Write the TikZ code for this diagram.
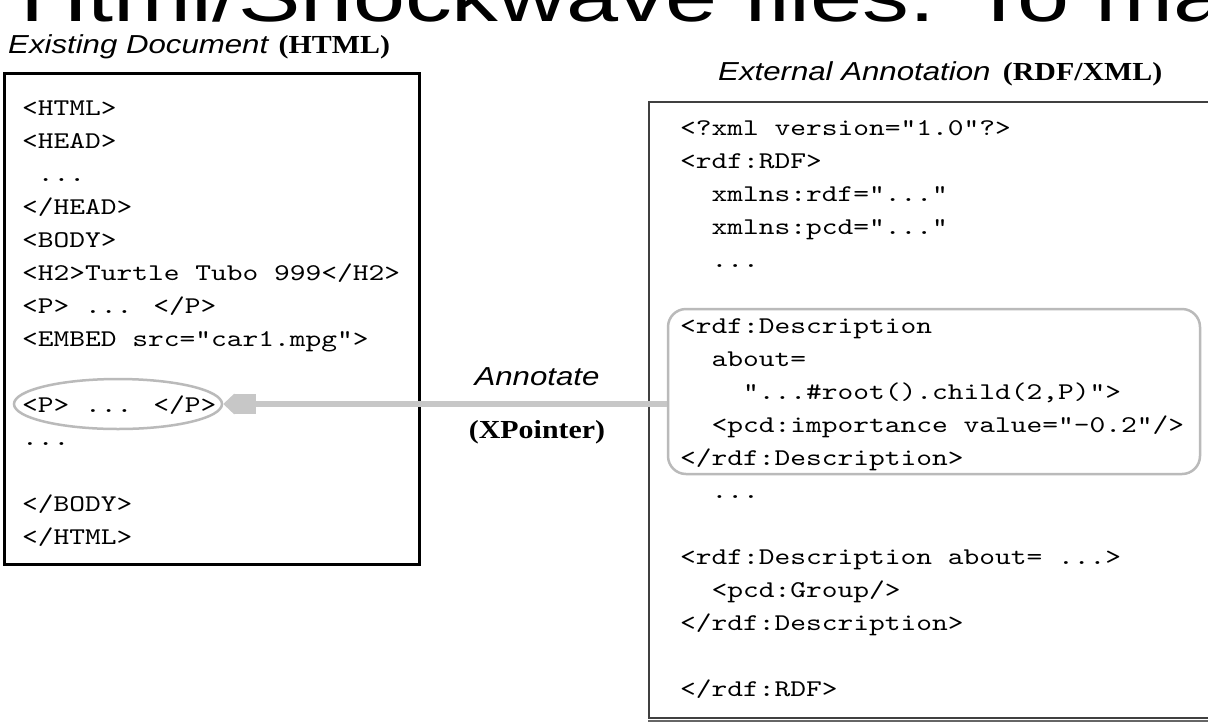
\documentclass[tikz,border=0pt]{standalone}
\usepackage{fontspec}
\usetikzlibrary{arrows.meta,shapes.geometric,positioning}
\setmainfont{Liberation Serif}
\newfontfamily\codefnt{lmmono10-regular}[Extension=.otf, FakeStretch=1.25]
\newfontfamily\sansfnt[FakeStretch=1.2]{Liberation Sans}
\newfontfamily\serifbf[FakeStretch=1.15]{Liberation Serif}
\newfontfamily\bannerfnt[FakeStretch=1.3]{Liberation Sans}

\begin{document}
\begin{tikzpicture}[x=1pt,y=-1pt]
\tikzstyle{code}=[anchor=base west, inner sep=0pt, font=\codefnt\fontsize{24}{24}\selectfont]
\tikzstyle{caption}=[inner sep=0pt, font=\sansfnt\itshape\fontsize{26}{26}\selectfont]
\tikzstyle{tag}=[inner sep=0pt, font=\serifbf\bfseries\fontsize{26}{26}\selectfont]
\tikzstyle{markring}=[draw=black!27, line width=2.5pt, inner sep=0pt]
\tikzstyle{annot}=[draw=black!22, line width=6pt, -{Rectangle[length=22pt,width=20pt] Triangle[length=11pt,width=20pt]}]

\path[use as bounding box, fill=white] (0,0) rectangle (1208,721);
\clip (0,0) rectangle (1208,721);

% cut off line above
\node[anchor=base west, inner sep=0pt, font=\bannerfnt\fontsize{72}{72}\selectfont] (cut_line) at (20,21) {Html/Shockwave files. To make};

% Titles
\node[caption, anchor=base west] (html_title) at (8,53) {Existing Document};
\node[tag, base right=10pt of html_title] (html_tag) {(HTML)};
\node[caption, anchor=base west] (rdf_title) at (718,80) {External Annotation};
\node[tag, base right=12pt of rdf_title] (rdf_tag) {(RDF/XML)};

% Frames
\node[draw=black, line width=3pt, minimum width=415pt, minimum height=491pt, inner sep=0pt, anchor=north west] (html_box) at (3,72) {};
\node[draw=black!75, line width=2pt, minimum width=580pt, minimum height=616pt, inner sep=0pt, anchor=north west] (rdf_box) at (648,101) {};
\draw[black!60, line width=1.5pt] ([yshift=-2pt]rdf_box.south west) -- ([yshift=-2pt]rdf_box.south east);

% HTML document
\foreach \r/\t in {0/{<HTML>}, 1/{<HEAD>}, 2/{\phantom{x}...}, 3/{</HEAD>}, 4/{<BODY>},
  5/{<H2>Turtle Tubo 999</H2>}, 6/{<P> ... </P>}, 7/{<EMBED src="car1.mpg">},
  9/{<P> ... </P>}, 10/{...}, 12/{</BODY>}, 13/{</HTML>}}
\node[code] (html_\r) at (22, 115+33*\r) {\t};

% RDF document
\foreach \r/\t in {0/{<?xml version="1.0"?>}, 1/{<rdf:RDF>}, 2/{\phantom{xx}xmlns:rdf="..."},
  3/{\phantom{xx}xmlns:pcd="..."}, 4/{\phantom{xx}...}, 6/{<rdf:Description},
  7/{\phantom{xx}about=}, 8/{\phantom{xxxx}"...\#root().child(2,P)">},
  9/{\phantom{xx}<pcd:importance value="-0.2"/>}, 10/{</rdf:Description>},
  11/{\phantom{xx}...}, 13/{<rdf:Description about= ...>}, 14/{\phantom{xx}<pcd:Group/>},
  15/{</rdf:Description>}, 17/{</rdf:RDF>}}
\node[code] (rdf_\r) at (680, 135+33*\r) {\t};

% Marked parts
\node[markring, ellipse, minimum width=208pt, minimum height=50pt] (p_mark) at (118,404) {};
\node[markring, rounded corners=18pt, minimum width=532pt, minimum height=165pt] (desc_mark) at (934,391.5) {};

% Link
\draw[annot] (desc_mark.west |- p_mark.east) -- (p_mark.east);
\node[caption, anchor=base] (link_label) at (537,385) {Annotate};
\node[tag, anchor=base] (link_kind) at (537,438) {(XPointer)};
\end{tikzpicture}
\end{document}
